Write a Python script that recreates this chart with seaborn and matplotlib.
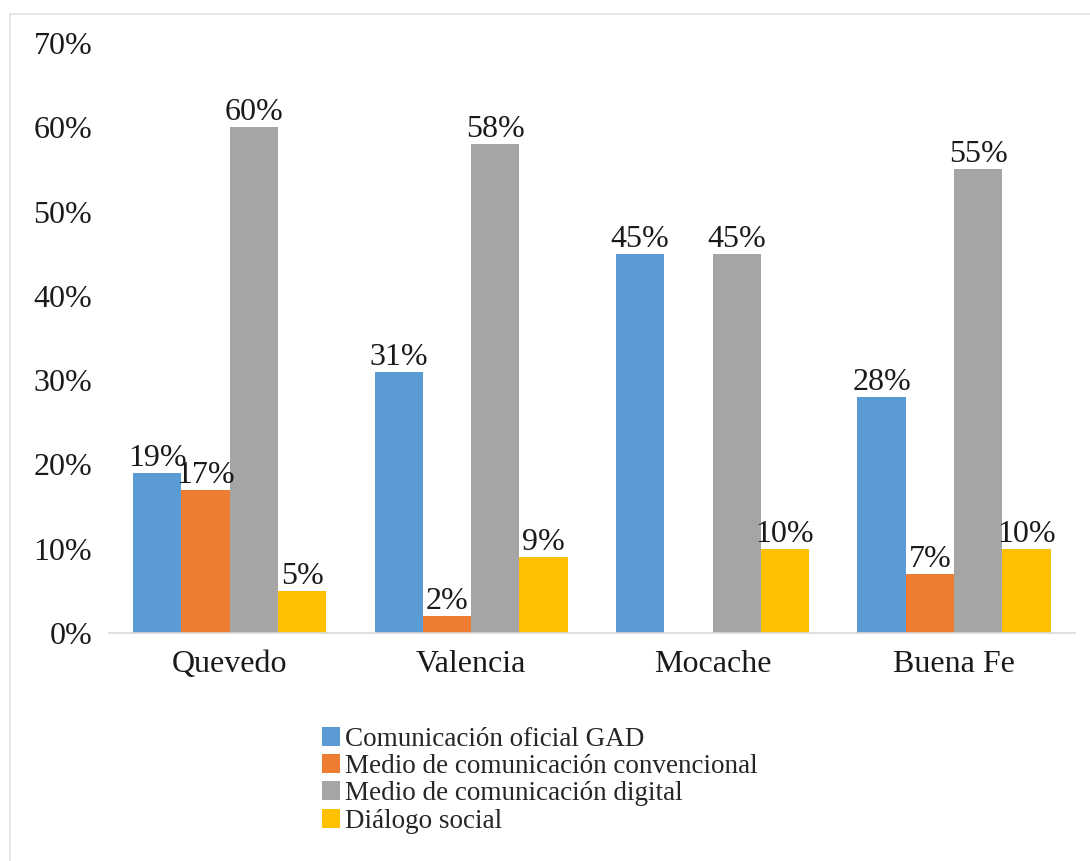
import matplotlib
matplotlib.use("Agg")
import matplotlib.pyplot as plt
from matplotlib.lines import Line2D
from matplotlib.patches import Patch
import seaborn as sns
import pandas as pd
import numpy as np

categories = ["Quevedo", "Valencia", "Mocache", "Buena Fe"]
series = ["Comunicación oficial GAD", "Medio de comunicación convencional",
          "Medio de comunicación digital", "Diálogo social"]
gad = [19, 31, 45, 28]
convencional = [17, 2, np.nan, 7]
digital = [60, 58, 45, 55]
dialogo = [5, 9, 10, 10]
colors = ["#5B9BD5", "#ED7D31", "#A5A5A5", "#FFC000"]
yticks = [0, 10, 20, 30, 40, 50, 60, 70]

rows = []
for s, vals in zip(series, [gad, convencional, digital, dialogo]):
    for c, v in zip(categories, vals):
        rows.append({"Ciudad": c, "Serie": s, "Valor": v})
df = pd.DataFrame(rows)

sns.set_theme(style="white")
plt.rcParams['font.family'] = ['Liberation Serif', 'DejaVu Serif']

fig = plt.figure(figsize=(10.9, 8.61), dpi=100)
ax = fig.add_axes([0.1, 0.265, 0.886, 0.685])

sns.barplot(data=df, x="Ciudad", y="Valor", hue="Serie", hue_order=series,
            order=categories, palette=colors, width=0.8, ax=ax,
            legend=False, saturation=1, errorbar=None, linewidth=0)

for cont, s in zip(ax.containers, series):
    labels = [("" if np.isnan(v) else f"{v:.0f}%") for v in cont.datavalues]
    ax.bar_label(cont, labels=labels, fontsize=23, padding=0, color="#1a1a1a")

ax.set_ylim(0, 70)
ax.set_xlim(-0.5, 3.5)
ax.set_yticks(yticks)
ax.set_yticklabels([f"{t}%" for t in yticks], fontsize=23, color="#1a1a1a")
ax.tick_params(axis="x", labelsize=23, colors="#1a1a1a", length=0, pad=12)
ax.tick_params(axis="y", length=0, pad=12)
ax.set_xlabel("")
ax.set_ylabel("")
for side in ["top", "right", "left"]:
    ax.spines[side].set_visible(False)
ax.spines["bottom"].set_color("#d9d9d9")
ax.spines["bottom"].set_linewidth(1.2)

handles = [Patch(facecolor=c, edgecolor="none") for c in colors]
fig.legend(handles, series, loc="upper left", bbox_to_anchor=(322/1090, 1 - 727/861),
           frameon=False, fontsize=19.5, handlelength=0.65, handleheight=0.7,
           handletextpad=0.2, labelspacing=0.08, borderpad=0, borderaxespad=0)

# light frame lines
fig.add_artist(Line2D([9.5/1090, 9.5/1090], [0, 1 - 14/861], transform=fig.transFigure,
                      color="#e3e3e3", lw=1.2))
fig.add_artist(Line2D([9.5/1090, 1], [1 - 14/861, 1 - 14/861], transform=fig.transFigure,
                      color="#e3e3e3", lw=1.2))

fig.savefig("out.png", dpi=100)
